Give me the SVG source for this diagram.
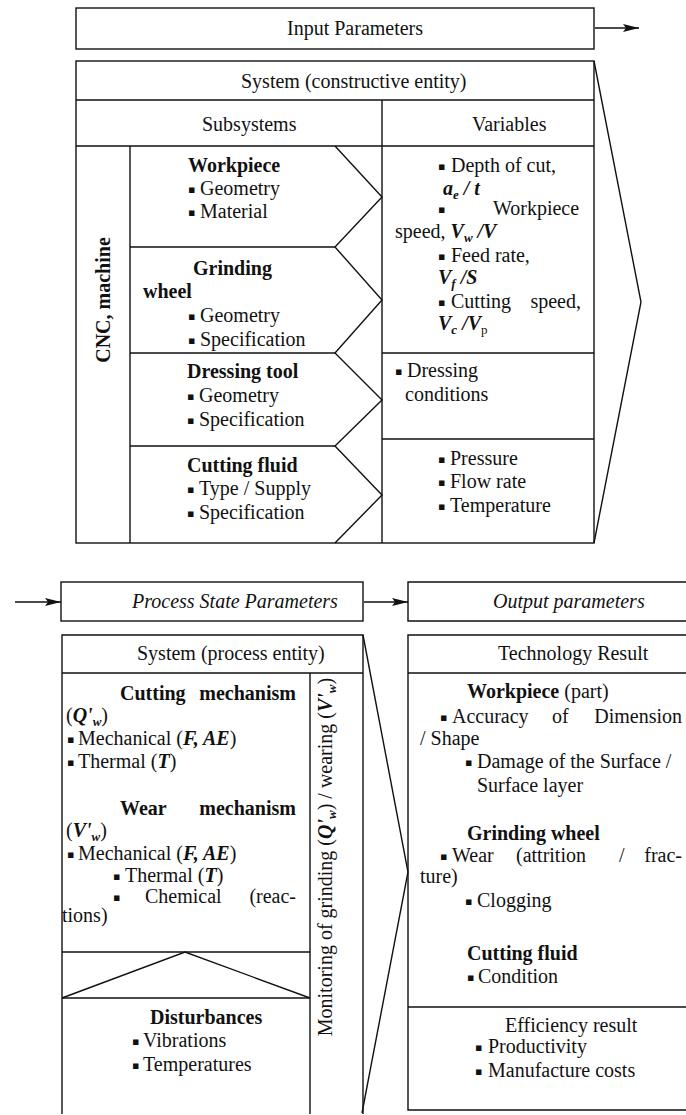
<svg xmlns="http://www.w3.org/2000/svg" width="686" height="1115" viewBox="0 0 686 1115">
  <defs>
    <style>
      .t{font-family:"Liberation Serif","Times New Roman",serif;font-size:20px;fill:#111}
      .b{font-weight:bold}
      .i{font-style:italic}
      .bi{font-weight:bold;font-style:italic}
      .e{text-anchor:end}
      .m{text-anchor:middle}
      .bu{font-family:"DejaVu Sans",sans-serif;font-size:11px}
      .sub{font-size:13px}
      .ln{fill:none;stroke:#111;stroke-width:1.4}
    </style>
    <marker id="arr" markerUnits="userSpaceOnUse" markerWidth="18" markerHeight="10" refX="16" refY="4" orient="auto">
      <path d="M0,0 L16,4 L0,8 L3,4 z" fill="#111"/>
    </marker>
  </defs>
  <rect width="686" height="1115" fill="#fff"/>

  <!-- connectors between the parameter boxes -->
  <g id="connectors">
    <line class="ln" x1="595" y1="28" x2="639" y2="28" marker-end="url(#arr)"/>
    <line class="ln" x1="15" y1="602" x2="61" y2="602" marker-end="url(#arr)"/>
    <line class="ln" x1="364" y1="602" x2="408" y2="602" marker-end="url(#arr)"/>
  </g>

  <!-- Input parameters header -->
  <g id="input-parameters">
    <rect class="ln" x="76" y="8" width="518" height="41"/>
    <text class="t" x="287" y="35">Input Parameters</text>
  </g>

  <!-- System (constructive entity) -->
  <g id="constructive-system">
    <rect class="ln" x="76" y="61" width="518" height="482"/>
    <path class="ln" d="M76,100 H594 M76,146 H594 M382,100 V543 M130,146 V543
      M130,247 H335 M130,353 H335 M130,446 H335 M382,353 H594 M382,439 H594"/>
    <path class="ln" d="M335,146 L382,197 L335,247 L382,300 L335,353 L382,400 L335,446 L382,495 L335,543"/>
    <path class="ln" d="M594,61 L641,302 L594,543"/>
    <text class="t" x="241" y="88">System (constructive entity)</text>
    <text class="t" x="202" y="131">Subsystems</text>
    <text class="t" x="472" y="131">Variables</text>
    <text class="t b m" transform="translate(110,300) rotate(-90)">CNC, machine</text>

    <!-- subsystems -->
    <text class="t b" x="188" y="172">Workpiece</text>
    <text class="t" y="195"><tspan class="bu" x="188" dy="-2">▪</tspan><tspan x="200" dy="2">Geometry</tspan></text>
    <text class="t" y="218"><tspan class="bu" x="188" dy="-2">▪</tspan><tspan x="200" dy="2">Material</tspan></text>

    <text class="t b" x="193" y="275">Grinding</text>
    <text class="t b" x="143" y="298">wheel</text>
    <text class="t" y="322"><tspan class="bu" x="188" dy="-2">▪</tspan><tspan x="200" dy="2">Geometry</tspan></text>
    <text class="t" y="346"><tspan class="bu" x="188" dy="-2">▪</tspan><tspan x="200" dy="2">Specification</tspan></text>

    <text class="t b" x="187" y="378">Dressing tool</text>
    <text class="t" y="402"><tspan class="bu" x="187" dy="-2">▪</tspan><tspan x="199" dy="2">Geometry</tspan></text>
    <text class="t" y="426"><tspan class="bu" x="187" dy="-2">▪</tspan><tspan x="199" dy="2">Specification</tspan></text>

    <text class="t b" x="187" y="472">Cutting fluid</text>
    <text class="t" y="495"><tspan class="bu" x="187" dy="-2">▪</tspan><tspan x="199" dy="2">Type / Supply</tspan></text>
    <text class="t" y="519"><tspan class="bu" x="187" dy="-2">▪</tspan><tspan x="199" dy="2">Specification</tspan></text>

    <!-- variables -->
    <text class="t" y="172"><tspan class="bu" x="438" dy="-2">▪</tspan><tspan x="451" dy="2">Depth of cut,</tspan></text>
    <text class="t bi" x="443" y="195">a<tspan class="sub" dy="4">e</tspan><tspan dy="-4"> / t</tspan></text>
    <text class="t" y="215"><tspan class="bu" x="438" dy="-2">▪</tspan><tspan x="493" dy="2">Workpiece</tspan></text>
    <text class="t" x="395" y="238">speed, <tspan class="bi">V</tspan><tspan class="bi sub" dy="4">w</tspan><tspan class="bi" dy="-4"> /V</tspan></text>
    <text class="t" y="262"><tspan class="bu" x="438" dy="-2">▪</tspan><tspan x="451" dy="2">Feed rate,</tspan></text>
    <text class="t bi" x="438" y="284">V<tspan class="sub" dy="4">f</tspan><tspan dy="-4"> /S</tspan></text>
    <text class="t" y="308"><tspan class="bu" x="438" dy="-2">▪</tspan><tspan x="451" dy="2">Cutting</tspan></text>
    <text class="t e" x="581" y="308">speed,</text>
    <text class="t bi" x="438" y="330">V<tspan class="sub" dy="4">c</tspan><tspan dy="-4"> /V</tspan><tspan class="sub" dy="4" font-weight="normal" font-style="normal">p</tspan></text>

    <text class="t" y="377"><tspan class="bu" x="395" dy="-2">▪</tspan><tspan x="407" dy="2">Dressing</tspan></text>
    <text class="t" x="405" y="401">conditions</text>

    <text class="t" y="465"><tspan class="bu" x="438" dy="-2">▪</tspan><tspan x="450" dy="2">Pressure</tspan></text>
    <text class="t" y="488"><tspan class="bu" x="438" dy="-2">▪</tspan><tspan x="450" dy="2">Flow rate</tspan></text>
    <text class="t" y="512"><tspan class="bu" x="438" dy="-2">▪</tspan><tspan x="450" dy="2">Temperature</tspan></text>
  </g>

  <!-- Process state parameters header -->
  <g id="process-state-parameters">
    <rect class="ln" x="61" y="582" width="302" height="39"/>
    <text class="t i" x="132" y="608">Process State Parameters</text>
  </g>

  <!-- System (process entity) -->
  <g id="process-system">
    <path class="ln" d="M62,1114 V635 H363 V1114 M62,673 H363 M310,673 V1114 M62,952 H310 M62,998 H310"/>
    <path class="ln" d="M62,998 L185,952 L310,998"/>
    <path class="ln" d="M363,635 L408,872 L362,1113"/>
    <text class="t" x="137" y="660">System (process entity)</text>

    <text class="t b" x="120" y="700">Cutting</text>
    <text class="t b e" x="296" y="700">mechanism</text>
    <text class="t" x="66" y="722">(<tspan class="bi">Q'</tspan><tspan class="bi sub" dy="4">w</tspan><tspan dy="-4">)</tspan></text>
    <text class="t" y="745"><tspan class="bu" x="67" dy="-2">▪</tspan><tspan x="78" dy="2">Mechanical (</tspan><tspan class="bi">F, AE</tspan>)</text>
    <text class="t" y="768"><tspan class="bu" x="67" dy="-2">▪</tspan><tspan x="78" dy="2">Thermal (</tspan><tspan class="bi">T</tspan>)</text>

    <text class="t b" x="120" y="815">Wear</text>
    <text class="t b e" x="296" y="815">mechanism</text>
    <text class="t" x="66" y="837">(<tspan class="bi">V'</tspan><tspan class="bi sub" dy="4">w</tspan><tspan dy="-4">)</tspan></text>
    <text class="t" y="860"><tspan class="bu" x="67" dy="-2">▪</tspan><tspan x="78" dy="2">Mechanical (</tspan><tspan class="bi">F, AE</tspan>)</text>
    <text class="t" y="882"><tspan class="bu" x="113" dy="-2">▪</tspan><tspan x="125" dy="2">Thermal (</tspan><tspan class="bi">T</tspan>)</text>
    <text class="t" y="903"><tspan class="bu" x="113" dy="-2">▪</tspan><tspan x="145" dy="2">Chemical</tspan></text>
    <text class="t e" x="296" y="903">(reac-</text>
    <text class="t" x="62" y="922">tions)</text>

    <text class="t b" x="150" y="1024">Disturbances</text>
    <text class="t" y="1047"><tspan class="bu" x="132" dy="-2">▪</tspan><tspan x="143" dy="2">Vibrations</tspan></text>
    <text class="t" y="1071"><tspan class="bu" x="132" dy="-2">▪</tspan><tspan x="143" dy="2">Temperatures</tspan></text>

    <text class="t m" font-size="19" transform="translate(332,857) rotate(-90)">Monitoring of grinding (<tspan class="bi">Q'</tspan><tspan class="bi sub" dy="4">w</tspan><tspan dy="-4">) / wearing (</tspan><tspan class="bi">V'</tspan><tspan class="bi sub" dy="4">w</tspan><tspan dy="-4">)</tspan></text>
  </g>

  <!-- Output parameters header -->
  <g id="output-parameters">
    <path class="ln" d="M686,582 H408 V621 H686"/>
    <text class="t i" x="493" y="608">Output parameters</text>
  </g>

  <!-- Technology result -->
  <g id="technology-result">
    <path class="ln" d="M686,635 H408 V1110 H686 M408,673 H686 M408,1007 H686"/>
    <text class="t" x="498" y="660">Technology Result</text>

    <text class="t" x="467" y="698"><tspan class="b">Workpiece</tspan> (part)</text>
    <text class="t" y="723"><tspan class="bu" x="440" dy="-2">▪</tspan><tspan x="452" dy="2">Accuracy</tspan><tspan x="552">of</tspan></text>
    <text class="t e" x="682" y="723">Dimension</text>
    <text class="t" x="420" y="745">/ Shape</text>
    <text class="t" y="768"><tspan class="bu" x="465" dy="-2">▪</tspan><tspan x="477" dy="2">Damage of the Surface /</tspan></text>
    <text class="t" x="477" y="792">Surface layer</text>

    <text class="t b" x="467" y="840">Grinding wheel</text>
    <text class="t" y="862"><tspan class="bu" x="440" dy="-2">▪</tspan><tspan x="452" dy="2">Wear</tspan><tspan x="516">(attrition</tspan><tspan x="619">/</tspan></text>
    <text class="t e" x="682" y="862">frac-</text>
    <text class="t" x="420" y="883">ture)</text>
    <text class="t" y="907"><tspan class="bu" x="465" dy="-2">▪</tspan><tspan x="477" dy="2">Clogging</tspan></text>

    <text class="t b" x="467" y="960">Cutting fluid</text>
    <text class="t" y="983"><tspan class="bu" x="467" dy="-2">▪</tspan><tspan x="478" dy="2">Condition</tspan></text>

    <text class="t" x="505" y="1032">Efficiency result</text>
    <text class="t" y="1053"><tspan class="bu" x="475" dy="-2">▪</tspan><tspan x="488" dy="2">Productivity</tspan></text>
    <text class="t" y="1077"><tspan class="bu" x="475" dy="-2">▪</tspan><tspan x="488" dy="2">Manufacture costs</tspan></text>
  </g>
</svg>
